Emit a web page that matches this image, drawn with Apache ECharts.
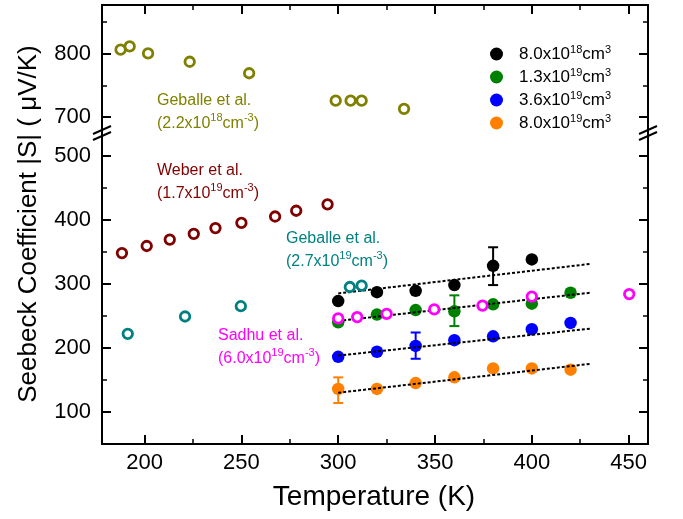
<!DOCTYPE html>
<html><head><meta charset="utf-8">
<script src="https://cdn.jsdelivr.net/npm/echarts@6/dist/echarts.min.js"></script>
<style>html,body{margin:0;padding:0;background:#fff}#c{width:683px;height:519px}</style>
</head><body><div id="c"></div><script>
const FONT = '"Liberation Sans", Arial, sans-serif';

// ---------- data ----------
const measT = [300, 320, 340, 360, 380, 400, 420];
const s_8e18  = [273, 287, 289, 298, 328, 338, null];
const s_13e19 = [240, 252, 259, 257, 268, 269, 286];
const s_36e19 = [186, 194, 203, 212, 218, 229, 239];
const s_8e19  = [136, 136, 145, 154, 168, 168, 166];
const seriesNames = ['8.0x10^18cm^3', '1.3x10^19cm^3', '3.6x10^19cm^3', '8.0x10^19cm^3'];

// error bars: [T, low, high]
const err_8e18  = [[380, 298, 357]];
const err_13e19 = [[360, 234, 282]];
const err_36e19 = [[340, 183, 224]];
const err_8e19  = [[300, 114, 154]];

// dotted linear fits (end points)
const fitT      = [300, 430];
const fit_8e18  = [285, 331];
const fit_13e19 = [242, 286];
const fit_36e19 = [188, 230];
const fit_8e19  = [130, 175];

// literature data
const geb22T = [187.6, 192.3, 201.8, 223.3, 254, 298.7, 306.4, 312.1, 334];
const geb22S = [806, 811, 800, 787, 769, 726, 726, 726, 713];
const weberT = [188.3, 201.1, 213, 225.4, 236.6, 250, 267.4, 278.3, 294.5];
const weberS = [348, 359, 369, 378, 387, 395, 405, 414, 424];
const geb27T = [191.3, 220.9, 249.7, 306, 312.1];
const geb27S = [222, 249, 265, 295, 297];
const sadhuT = [300, 309.8, 325, 349.6, 374.5, 400, 450.3];
const sadhuS = [246, 248, 253, 260, 266, 280, 284];

// annotation texts
const annoGeb22 = ['Geballe et al.', '(2.2x10^18cm^-3)'];
const annoWeber = ['Weber et al.', '(1.7x10^19cm^-3)'];
const annoGeb27 = ['Geballe et al.', '(2.7x10^19cm^-3)'];
const annoSadhu = ['Sadhu et al.', '(6.0x10^19cm^-3)'];

// ticks
const xMajor = [200, 250, 300, 350, 400, 450];
const xMinor = [225, 275, 325, 375, 425];
const yUpMajor = [700, 800];
const yUpMinor = [750, 850];
const yLoMajor = [100, 200, 300, 400, 500];
const yLoMinor = [150, 250, 350, 450];

const xTitle = 'Temperature (K)';
const yTitle = 'Seebeck Coefficient |S| ( \u03bcV/K)';

// ---------- helpers ----------
const zip = (xs, ys) => xs.map((x, i) => [x, ys[i]]).filter(p => p[1] != null);
const sup = s => s.replace(/\^(-?\d+)/g, '{sup|$1}');

const X_MIN = 178, X_MAX = 460;
const UP_MIN = 680, UP_MAX = 876;
const LO_MIN = 50, LO_MAX = 540;
const L = 102, R = 35, TOP = 5, MID = 130, BOT = 75;

function axisPair(gi, pos, min, max, major, minor, showLabels, labelMargin) {
  const major_ = {
    type: 'value', gridIndex: gi, position: pos, min: min, max: max,
    axisLine: { show: true, onZero: false, lineStyle: { color: '#000', width: 2 } },
    axisTick: { show: true, inside: true, length: 9, customValues: major, lineStyle: { color: '#000', width: 2 } },
    axisLabel: { show: showLabels, customValues: major, margin: labelMargin, fontSize: 22, color: '#000', fontFamily: FONT },
    splitLine: { show: false }
  };
  const minor_ = {
    type: 'value', gridIndex: gi, position: pos, min: min, max: max,
    axisLine: { show: false, onZero: false },
    axisTick: { show: true, inside: true, length: 5, customValues: minor, lineStyle: { color: '#000', width: 1.5 } },
    axisLabel: { show: false },
    splitLine: { show: false }
  };
  return [major_, minor_];
}

const xAxes = [
  ...axisPair(0, 'top', X_MIN, X_MAX, xMajor, xMinor, false, 8),      // 0,1
  ...axisPair(1, 'bottom', X_MIN, X_MAX, xMajor, xMinor, true, 8)     // 2,3
];
const yAxes = [
  ...axisPair(0, 'left', UP_MIN, UP_MAX, yUpMajor, yUpMinor, true, 11),   // 0,1
  ...axisPair(0, 'right', UP_MIN, UP_MAX, yUpMajor, yUpMinor, false, 8),  // 2,3
  ...axisPair(1, 'left', LO_MIN, LO_MAX, yLoMajor, yLoMinor, true, 11),   // 4,5
  ...axisPair(1, 'right', LO_MIN, LO_MAX, yLoMajor, yLoMinor, false, 8)   // 6,7
];

const COLORS = ['#000000', '#008000', '#0000ff', '#ff8000'];
const measured = [s_8e18, s_13e19, s_36e19, s_8e19];
const errs = [err_8e18, err_13e19, err_36e19, err_8e19];
const fits = [fit_8e18, fit_13e19, fit_36e19, fit_8e19];

function renderErr(params, api) {
  const x = api.value(0), lo = api.value(1), hi = api.value(2);
  const p1 = api.coord([x, hi]), p2 = api.coord([x, lo]);
  const w = 5;
  const style = { stroke: api.visual('color'), lineWidth: 2 };
  return { type: 'group', children: [
    { type: 'line', shape: { x1: p1[0], y1: p1[1], x2: p2[0], y2: p2[1] }, style: style },
    { type: 'line', shape: { x1: p1[0] - w, y1: p1[1], x2: p1[0] + w, y2: p1[1] }, style: style },
    { type: 'line', shape: { x1: p2[0] - w, y1: p2[1], x2: p2[0] + w, y2: p2[1] }, style: style }
  ]};
}

const series = [];
measured.forEach((vals, i) => {
  series.push({
    name: seriesNames[i], type: 'scatter', xAxisIndex: 2, yAxisIndex: 4, z: 2,
    symbol: 'circle', symbolSize: 12.5, itemStyle: { color: COLORS[i], opacity: 1 },
    emphasis: { disabled: true },
    data: zip(measT, vals)
  });
});
errs.forEach((e, i) => {
  series.push({
    name: 'err' + i, type: 'custom', xAxisIndex: 2, yAxisIndex: 4, z: 3,
    itemStyle: { color: COLORS[i] }, renderItem: renderErr,
    encode: { x: 0, y: [1, 2] }, data: e
  });
});
fits.forEach((f, i) => {
  series.push({
    name: 'fit' + i, type: 'line', xAxisIndex: 2, yAxisIndex: 4, z: 4,
    showSymbol: false, symbol: 'none',
    lineStyle: { color: '#000', width: 2, type: [3, 2] },
    data: zip(fitT, f)
  });
});
function openSeries(name, xs, ys, color, xi, yi) {
  return {
    name: name, type: 'scatter', xAxisIndex: xi, yAxisIndex: yi, z: 5,
    symbol: 'circle', symbolSize: 9.5,
    itemStyle: { color: '#ffffff', borderColor: color, borderWidth: 2.8, opacity: 1 },
    emphasis: { disabled: true },
    data: zip(xs, ys)
  };
}
series.push(openSeries('Geballe 2.2e18', geb22T, geb22S, '#808000', 0, 0));
series.push(openSeries('Weber', weberT, weberS, '#800000', 2, 4));
series.push(openSeries('Geballe 2.7e19', geb27T, geb27S, '#008080', 2, 4));
series.push(openSeries('Sadhu', sadhuT, sadhuS, '#ff00ff', 2, 4));

function anno(lines, color, x, y) {
  return {
    type: 'text', x: x, y: y, z: 10,
    style: {
      text: lines.map(sup).join('\n'), fill: color, fontSize: 16, fontFamily: FONT,
      lineHeight: 23, align: 'left', verticalAlign: 'top',
      rich: { sup: { fontSize: 11, lineHeight: 14, verticalAlign: 'top', fill: color, fontFamily: FONT } }
    }
  };
}
function breakMark(cx, cy) {
  const mk = dy => ({ type: 'line', z: 20,
    shape: { x1: cx - 9, y1: cy + dy + 4, x2: cx + 9, y2: cy + dy - 4 },
    style: { stroke: '#000', lineWidth: 2 } });
  return [mk(-3), mk(3)];
}

const option = {
  animation: false,
  backgroundColor: '#fff',
  grid: [
    { left: L, right: R, top: TOP, height: MID - TOP, outerBoundsMode: 'none' },
    { left: L, right: R, top: MID, bottom: BOT, outerBoundsMode: 'none' }
  ],
  xAxis: xAxes,
  yAxis: yAxes,
  legend: {
    data: seriesNames, orient: 'vertical', left: 485, top: 39, itemGap: 3,
    icon: 'circle', itemWidth: 13, itemHeight: 13,
    formatter: name => sup(name),
    textStyle: {
      fontSize: 17, fontFamily: FONT, color: '#000', lineHeight: 20, padding: [0, 0, 0, 11],
      rich: { sup: { fontSize: 11, lineHeight: 11, verticalAlign: 'top', fontFamily: FONT, color: '#000' } }
    }
  },
  graphic: [
    { type: 'text', x: 29, y: 224, rotation: Math.PI / 2, z: 10,
      style: { text: yTitle, fontSize: 26, fontFamily: FONT, fill: '#000', align: 'center', verticalAlign: 'middle' } },
    { type: 'text', x: 374, y: 497, z: 10,
      style: { text: xTitle, fontSize: 28, fontFamily: FONT, fill: '#000', align: 'center', verticalAlign: 'middle' } },
    anno(annoGeb22, '#808000', 157, 89.5),
    anno(annoWeber, '#800000', 157, 159),
    anno(annoGeb27, '#008080', 286, 227.5),
    anno(annoSadhu, '#ff00ff', 218, 324.5),
    ...breakMark(L, 133),
    ...breakMark(683 - R, 133)
  ],
  series: series
};

const chart = echarts.init(document.getElementById('c'), null, { renderer: 'canvas' });
chart.setOption(option);
</script></body></html>
